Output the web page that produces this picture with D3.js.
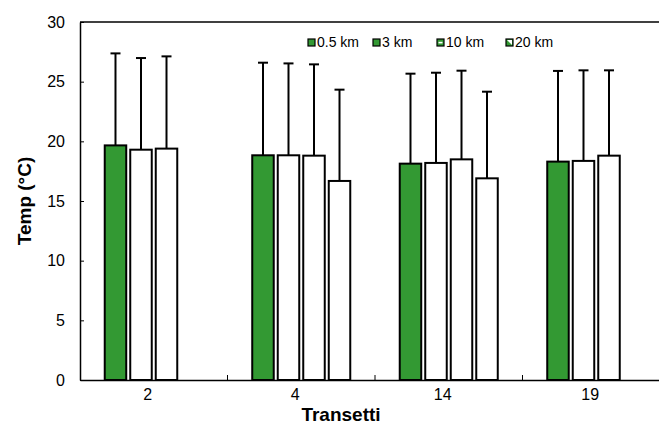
<!DOCTYPE html>
<html><head><meta charset="utf-8">
<script src="https://cdn.jsdelivr.net/npm/d3@7"></script>
<style>body{margin:0;background:#fff} svg{display:block;font-family:"Liberation Sans",Arial,sans-serif}</style>
</head><body>
<svg id="chart" width="659" height="430"></svg>
<script>
const categories = ["2", "4", "14", "19"];
const seriesNames = ["0.5 km", "3 km", "10 km", "20 km"];
const mean05 = [19.66, 18.83, 18.13, 18.30];
const mean3  = [19.30, 18.83, 18.19, 18.36];
const mean10 = [19.39, 18.80, 18.49, 18.80];
const mean20 = [0, 16.68, 16.90, 0];
const sd05 = [7.71, 7.76, 7.54, 7.60];
const sd3  = [7.68, 7.70, 7.56, 7.59];
const sd10 = [7.73, 7.65, 7.43, 7.15];
const sd20 = [null, 7.65, 7.26, null];
const yTicks = [0, 5, 10, 15, 20, 25, 30];
const fills = ["#339933", "#ffffff", "#ffffff", "#ffffff"];

const means = [mean05, mean3, mean10, mean20];
const sds = [sd05, sd3, sd10, sd20];
const data = [];
categories.forEach((c, i) => seriesNames.forEach((s, j) => {
  data.push({cat: c, ser: s, si: j, v: means[j][i], e: sds[j][i]});
}));

const svg = d3.select("#chart");
const L = 80, R = 670, T = 22, B = 380;
const x0 = d3.scaleBand().domain(categories).range([L, R]).padding(0);
const x1 = d3.scaleBand().domain(seriesNames).range([0, x0.bandwidth()]).paddingInner(0.157).paddingOuter(0.97);
const y = d3.scaleLinear().domain([0, 30]).range([B, T]);

// bars
const g = svg.append("g");
g.selectAll("rect.bar").data(data).join("rect")
  .attr("class", "bar")
  .attr("x", d => x0(d.cat) + x1(d.ser))
  .attr("width", x1.bandwidth())
  .attr("y", d => y(d.v))
  .attr("height", d => y(0) - y(d.v))
  .attr("fill", d => fills[d.si])
  .attr("stroke", "#000").attr("stroke-width", 2);

// error bars
const eb = data.filter(d => d.e != null);
g.selectAll("line.err").data(eb).join("line")
  .attr("x1", d => x0(d.cat) + x1(d.ser) + x1.bandwidth() / 2)
  .attr("x2", d => x0(d.cat) + x1(d.ser) + x1.bandwidth() / 2)
  .attr("y1", d => y(d.v)).attr("y2", d => y(d.v + d.e))
  .attr("stroke", "#000").attr("stroke-width", 2);
g.selectAll("line.cap").data(eb).join("line")
  .attr("x1", d => x0(d.cat) + x1(d.ser) + x1.bandwidth() / 2 - 5)
  .attr("x2", d => x0(d.cat) + x1(d.ser) + x1.bandwidth() / 2 + 5)
  .attr("y1", d => y(d.v + d.e)).attr("y2", d => y(d.v + d.e))
  .attr("stroke", "#000").attr("stroke-width", 2);

// frame
svg.append("line").attr("x1", L).attr("x2", R).attr("y1", T).attr("y2", T).attr("stroke", "#000").attr("stroke-width", 1.5);

// y axis
const ya = svg.append("g").attr("transform", `translate(${L},0)`)
  .call(d3.axisLeft(y).tickValues(yTicks).tickSizeInner(-4).tickSizeOuter(0).tickPadding(15));
ya.select(".domain").attr("stroke-width", 1.5);
ya.selectAll("text").attr("font-size", 16).attr("fill", "#000").attr("font-family", "Liberation Sans, Arial, sans-serif");

// x axis
const xa = svg.append("g").attr("transform", `translate(0,${B})`)
  .call(d3.axisBottom(x0).tickSize(0).tickPadding(9));
xa.select(".domain").attr("stroke-width", 1.5);
xa.selectAll("text").attr("font-size", 16).attr("fill", "#000").attr("dx", -6).attr("font-family", "Liberation Sans, Arial, sans-serif");
svg.append("g").selectAll("line").data(categories.slice(1)).join("line")
  .attr("x1", d => x0(d)).attr("x2", d => x0(d))
  .attr("y1", B).attr("y2", B - 5).attr("stroke", "#000").attr("stroke-width", 1);

// axis titles
svg.append("text").attr("x", 341).attr("y", 421).attr("text-anchor", "middle")
  .attr("font-size", 19).attr("font-weight", "bold").text("Transetti");
svg.append("text").attr("transform", `translate(31,${(T + B) / 2}) rotate(-90)`).attr("text-anchor", "middle")
  .attr("font-size", 19).attr("font-weight", "bold").text("Temp (°C)");

// legend
const legX = [308, 373, 437, 506];
const leg = svg.append("g").selectAll("g").data(seriesNames).join("g")
  .attr("transform", (d, i) => `translate(${legX[i]},39)`);
leg.append("rect").attr("width", 7).attr("height", 7).attr("fill", "#339933").attr("stroke", "#000").attr("stroke-width", 1.2);
leg.filter((d, i) => i === 2).append("rect").attr("x", 1.5).attr("y", 2.8).attr("width", 4).attr("height", 1.6).attr("fill", "#fff");
leg.filter((d, i) => i === 3).append("path").attr("d", "M1,1 L6,1 L6,6 Z").attr("fill", "#fff");
leg.append("text").attr("x", 9).attr("y", 7.5).attr("font-size", 14).text(d => d);
</script>
</body></html>
